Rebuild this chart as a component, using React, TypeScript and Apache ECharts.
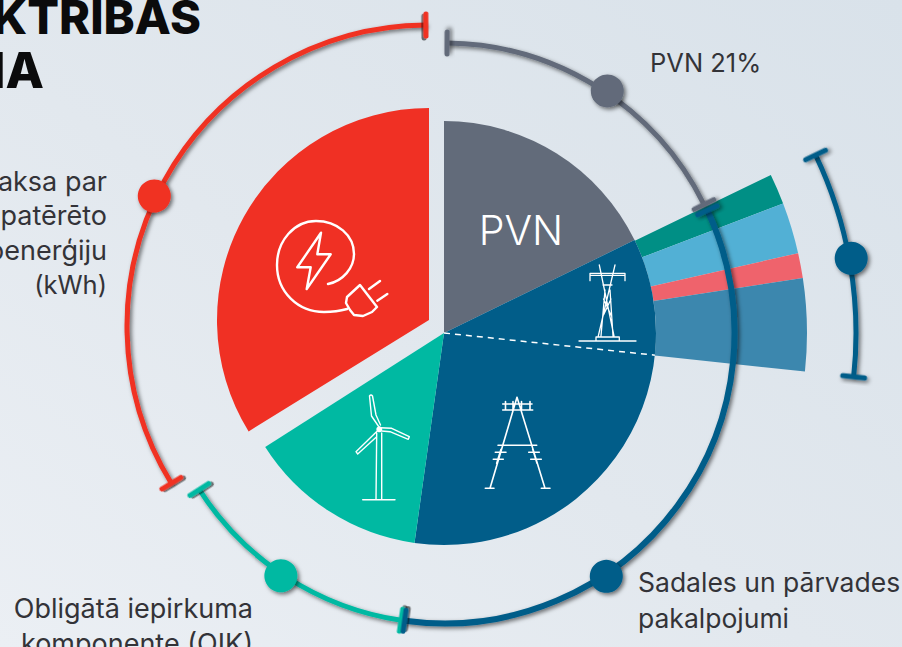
import React, { useEffect, useRef } from "react";
import * as echarts from "echarts";

// ---- data (angles in degrees, clockwise from 12 o'clock) ----
const sliceNames = ["PVN", "Sadales un pārvades pakalpojumi", "Obligātā iepirkuma komponente (OIK)"];
const sliceValues = [64, 124, 49.5];
const redValues = [238.3, 121.7];
const fanValues = [64.2, 4.9, 8.2, 4, 14.8];
const fanRest = 263.9;

const grayArc = [290, 0.6, 63.7, 34];
const blueArc = [290.5, 65, 187.8, 146.3];
const tealArc = [290.5, 188.5, 237.4, 213.9];
const redArc = [301, 359.6, 238.5, 295.4];
const fanArc = [412, 64.4, 96.1, 79.6];
const divider = [212, 96];

const titleLines = ["ELEKTRĪBAS", "CENA"];
const taxLabel = "PVN 21%";
const networkLabel = ["Sadales un pārvades", "pakalpojumi"];
const oikLabel = ["Obligātā iepirkuma", "komponente (OIK)"];
const energyLabel = ["Maksa par", "patērēto", "elektroenerģiju", "(kWh)"];

const GRAY = "#626b7a";
const BLUE = "#015d89";
const TEAL = "#00b9a2";
const RED = "#f03024";
const TEXT = "#333338";
const FONT = "Inter";

const BOLT = "M321 232.7L297.3 267.3L310.7 267.3L306.7 289L330.7 254.3L317.3 254.3Z";
const PLUG =
  "M328 284C343 281 354 268 354 254C354 235 337 221 316 221C294 221 277 241 277 265C277 292 298 312 324 312C332 312 340 311 347 309" +
  "M347 297L360 285L377 307L372 312L363 316L354 315L350 310L346 303Z" +
  "M369 289L380 281M377.3 300.7L387.3 294";
const TURBINE =
  "M376.7 433L376 499.7M381.7 433L381.7 499.7M362.7 499.7L395 499.7" +
  "M379 427L371.5 416L369.5 396Q371 394 372.5 396L376 415L380.5 425" +
  "M380 427.7L391.7 428.3L409.3 436.7L408.3 439.3L390 431.7L381.7 431" +
  "M377.3 431L356 451.7L357.7 454L376.7 436.7";
const TOWER =
  "M517 397.3L490 488.3M517 397.3L545 488.3M485.3 488.3L494 488.3M541.3 488.3L550 488.3" +
  "M502.7 404L532 404M502.7 410L532.7 410" +
  "M505.5 401.5L505.5 410M513 401.5L513 410M521.5 401.5L521.5 410M530 401.5L530 410" +
  "M498 445.3L536.7 445.3" +
  "M495.3 452.3L506 452.3M493.3 459.3L503.3 459.3M528.7 452.3L539.3 452.3M530.7 459.3L541.3 459.3" +
  "M501 449.3L496.7 463.3M532.7 449.3L537 463.3";
const PYLON =
  "M599.3 265L614 336M615 265L598.3 336M605 290L601 336M610 290L613 336" +
  "M590 273.3L625 273.3M590 275.3L625 275.3M590 273.3L590 280.7M625 273.3L625 280.7" +
  "M603 285L612 285M603.5 299L611 315M611 299L603.5 315" +
  "M596 341L596 337L619.3 337L619.3 341M579 341L636 341";

echarts.graphic.registerShape("iconBolt", echarts.graphic.extendPath(BOLT, {}));
echarts.graphic.registerShape("iconPlug", echarts.graphic.extendPath(PLUG, {}));
echarts.graphic.registerShape("iconTurbine", echarts.graphic.extendPath(TURBINE, {}));
echarts.graphic.registerShape("iconTower", echarts.graphic.extendPath(TOWER, {}));
echarts.graphic.registerShape("iconPylon", echarts.graphic.extendPath(PYLON, {}));

const SHADOW = { shadowBlur: 4, shadowOffsetX: 2, shadowOffsetY: 2, shadowColor: "rgba(0,0,0,0.55)" };
const toRad = (d: number) => ((d - 90) * Math.PI) / 180;

function arcRenderer(color: string, capHalf: number, arcWidth: number) {
  return (params: any, api: any) => {
    const r = api.value(0);
    const a0 = api.value(1);
    const a1 = api.value(2);
    const dot = api.value(3);
    const { cx, cy } = params.coordSys;
    const clockwise = a1 > a0;
    const cap = (a: number) => {
      const p = api.coord([r, a]);
      return {
        type: "rect",
        x: p[0],
        y: p[1],
        rotation: -toRad(a),
        shape: { x: -capHalf, y: -2.6, width: capHalf * 2, height: 5.2, r: 2.6 },
        style: { fill: color, ...SHADOW },
      };
    };
    const c = api.coord([r + 2, dot]);
    return {
      type: "group",
      children: [
        {
          type: "arc",
          shape: { cx, cy, r, startAngle: toRad(a0), endAngle: toRad(a1), clockwise },
          style: { stroke: color, fill: "none", lineWidth: arcWidth, ...SHADOW },
        },
        cap(a0),
        cap(a1),
        {
          type: "circle",
          shape: { cx: c[0], cy: c[1], r: 16.5 },
          style: { fill: color, ...SHADOW },
        },
      ],
    };
  };
}

function arcSeries(row: number[], color: string, polarIndex: number, capHalf: number, width: number, z: number) {
  return {
    type: "custom",
    coordinateSystem: "polar",
    polarIndex,
    z,
    silent: true,
    clip: false,
    encode: { radius: 0, angle: 1 },
    data: [row],
    renderItem: arcRenderer(color, capHalf, width),
  };
}

const blank = { color: "rgba(0,0,0,0)" };

function pieBase(center: number[], radius: number[], z: number) {
  return {
    type: "pie",
    center,
    radius,
    startAngle: 90,
    clockwise: true,
    z,
    silent: true,
    minAngle: 0,
    avoidLabelOverlap: false,
    label: { show: false },
    labelLine: { show: false },
    emphasis: { disabled: true },
  };
}

function label(text: string, x: number, y: number, align: string, size = 26.5, extra: any = {}) {
  return {
    type: "text",
    z: 100,
    style: {
      text,
      x,
      y,
      textAlign: align,
      textVerticalAlign: "middle",
      fontFamily: FONT,
      fontSize: size,
      fill: TEXT,
      ...extra,
    },
  };
}

function icon(type: string, lineWidth: number) {
  return {
    type,
    z: 100,
    x: 0,
    y: 0,
    style: { stroke: "#ffffff", fill: "none", lineWidth, lineJoin: "round", lineCap: "round" },
  };
}

export default function App() {
  const ref = useRef<HTMLDivElement>(null);
  useEffect(() => {
    document.body.style.margin = "0";
    const chart = echarts.init(ref.current!, undefined, { renderer: "svg" });
    const polarCommon = { radius: 500 };
    chart.setOption({
      animation: false,
      backgroundColor: {
        type: "linear",
        x: 1,
        y: 0,
        x2: 0,
        y2: 1,
        colorStops: [
          { offset: 0, color: "#d9e2ea" },
          { offset: 0.55, color: "#e2e8ee" },
          { offset: 1, color: "#ebeff4" },
        ],
      },
      polar: [
        { center: [444, 333], ...polarCommon },
        { center: [428, 326], ...polarCommon },
      ],
      angleAxis: [
        { polarIndex: 0, min: 0, max: 360, startAngle: 90, clockwise: true, show: false },
        { polarIndex: 1, min: 0, max: 360, startAngle: 90, clockwise: true, show: false },
      ],
      radiusAxis: [
        { polarIndex: 0, min: 0, max: 500, show: false },
        { polarIndex: 1, min: 0, max: 500, show: false },
      ],
      series: [
        {
          ...pieBase([444, 333], [212, 363], 1),
          data: [
            { value: fanValues[0], itemStyle: blank },
            { value: fanValues[1], itemStyle: { color: "#008f85" } },
            { value: fanValues[2], itemStyle: { color: "#52b0d5" } },
            { value: fanValues[3], itemStyle: { color: "#ef636c" } },
            { value: fanValues[4], itemStyle: { color: "#3c87ae" } },
            { value: fanRest, itemStyle: blank },
          ],
        },
        {
          ...pieBase([444, 333], [0, 212], 2),
          data: [
            { name: sliceNames[0], value: sliceValues[0], itemStyle: { color: GRAY } },
            { name: sliceNames[1], value: sliceValues[1], itemStyle: { color: BLUE } },
            { name: sliceNames[2], value: sliceValues[2], itemStyle: { color: TEAL } },
            { value: 360 - sliceValues[0] - sliceValues[1] - sliceValues[2], itemStyle: blank },
          ],
        },
        {
          ...pieBase([429, 320], [0, 212], 2),
          data: [
            { value: redValues[0], itemStyle: blank },
            { name: energyLabel.join(" "), value: redValues[1], itemStyle: { color: RED } },
          ],
        },
        {
          type: "custom",
          coordinateSystem: "polar",
          polarIndex: 0,
          z: 3,
          silent: true,
          clip: false,
          encode: { radius: 0, angle: 1 },
          data: [divider],
          renderItem: (_p: any, api: any) => {
            const a = api.coord([0, api.value(1)]);
            const b = api.coord([api.value(0), api.value(1)]);
            return {
              type: "line",
              shape: { x1: a[0], y1: a[1], x2: b[0], y2: b[1] },
              style: { stroke: "#ffffff", lineWidth: 1.5, lineDash: [6, 5] },
            };
          },
        },
        arcSeries(grayArc, GRAY, 0, 13.5, 5, 5),
        arcSeries(tealArc, TEAL, 0, 13.5, 5, 5),
        arcSeries(blueArc, BLUE, 0, 13, 6, 6),
        arcSeries(redArc, RED, 1, 13.5, 5, 5),
        arcSeries(fanArc, BLUE, 0, 13.5, 5, 5),
      ],
      graphic: [
        label(titleLines[0], 201, 16, "right", 47, { fontWeight: 800, fill: "#0b0b0c" }),
        label(titleLines[1], 44, 70, "right", 50, { fontWeight: 800, fill: "#0b0b0c" }),
        label(taxLabel, 650, 62, "left", 25.5),
        label(networkLabel[0], 638, 582, "left"),
        label(networkLabel[1], 638, 618, "left"),
        label(oikLabel[0], 253, 608, "right", 27),
        label(oikLabel[1], 253, 643, "right", 27),
        label(energyLabel[0], 107, 181, "right", 27),
        label(energyLabel[1], 107, 215, "right", 27),
        label(energyLabel[2], 107, 250, "right", 27),
        label(energyLabel[3], 107, 284, "right", 25.5),
        label("PVN", 521, 230, "center", 41, { fill: "#ffffff", fontWeight: 300 }),
        icon("iconBolt", 2.4),
        icon("iconPlug", 2.4),
        icon("iconTurbine", 1.4),
        icon("iconTower", 1.6),
        icon("iconPylon", 1.3),
        {
          type: "circle",
          z: 100,
          shape: { cx: 379.3, cy: 429.3, r: 3 },
          style: { fill: "#ffffff" },
        },
      ],
    });
    return () => chart.dispose();
  }, []);
  return (
    <div
      ref={ref}
      style={{ position: "fixed", left: 0, top: 0, width: 902, height: 647, overflow: "hidden" }}
    />
  );
}
